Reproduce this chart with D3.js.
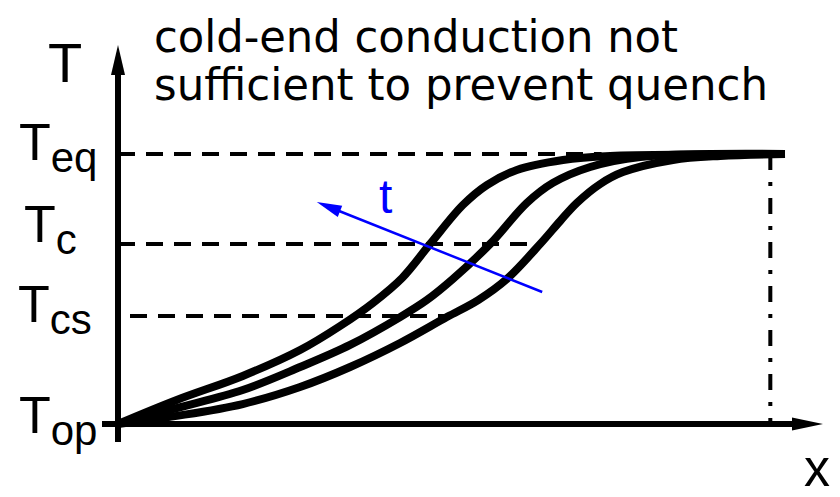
<!DOCTYPE html>
<html>
<head>
<meta charset="utf-8">
<script src="https://cdn.jsdelivr.net/npm/d3@7"></script>
<style>
body { margin: 0; background: #fff; }
svg { display: block; }
</style>
</head>
<body>
<svg width="840" height="497"></svg>
<script>
// position along the conductor (0..100), temperature normalised so T_op = 0 and T_eq = 1
var levelNames = ["op", "cs", "c", "eq"];
var levelValues = [0, 0.4, 0.667, 1];
var levelLineFrom = [null, 1.8, 0, 0];
var levelLineTo = [null, 49, 63.3, 72.5];

var posEarly = [0, 8.8, 18.7, 27.3, 33.3, 38.2, 42.6, 46.8, 51.7, 55.3, 59.8, 66.7, 73.8, 87.3, 100];
var tempEarly = [0, 0.089, 0.178, 0.274, 0.363, 0.448, 0.541, 0.667, 0.811, 0.885, 0.941, 0.978, 0.993, 0.998, 1];

var posMid = [0, 8.8, 18.7, 27.3, 34.8, 42.3, 46.3, 50.2, 55.8, 61.3, 65.2, 70.8, 78.3, 100];
var tempMid = [0, 0.059, 0.126, 0.211, 0.293, 0.396, 0.459, 0.537, 0.667, 0.819, 0.893, 0.952, 0.989, 1];

var posLate = [0, 8.8, 18.7, 27.3, 34.8, 42.3, 49.3, 54, 58.3, 63.3, 66.3, 68.8, 72.3, 75.7, 83.2, 90.3, 100];
var tempLate = [0, 0.03, 0.074, 0.137, 0.211, 0.3, 0.396, 0.459, 0.537, 0.667, 0.752, 0.819, 0.889, 0.933, 0.978, 0.993, 1];

var quenchEnd = 97.8;
var timeArrowFrom = [63.6, 0.489];
var timeArrowTo = [29.8, 0.822];

var titleLines = ["cold-end conduction not", "sufficient to prevent quench"];

var svg = d3.select("svg");

var x = d3.scaleLinear().domain([0, 100]).range([118, 785]);
var y = d3.scaleLinear().domain([0, 1]).range([424, 154]);

function arrowHead(tx, ty, fx, fy, len, half) {
    var a = Math.atan2(ty - fy, tx - fx);
    var bx = tx - len * Math.cos(a), by = ty - len * Math.sin(a);
    var px = -Math.sin(a) * half, py = Math.cos(a) * half;
    return "M" + tx + "," + ty + "L" + (bx + px) + "," + (by + py) + "L" + (bx - px) + "," + (by - py) + "Z";
}

// dashed temperature levels
var levels = levelValues.map(function(v, i) {
    return { name: levelNames[i], value: v, from: levelLineFrom[i], to: levelLineTo[i] };
});

svg.append("g")
    .selectAll("line")
    .data(levels.filter(function(d) { return d.from !== null; }))
    .enter().append("line")
    .attr("x1", function(d) { return x(d.from); })
    .attr("x2", function(d) { return x(d.to); })
    .attr("y1", function(d) { return y(d.value); })
    .attr("y2", function(d) { return y(d.value); })
    .attr("stroke", "#000")
    .attr("stroke-width", 4)
    .attr("stroke-dasharray", "17,11");

// end of the conductor
svg.append("line")
    .attr("x1", x(quenchEnd)).attr("x2", x(quenchEnd))
    .attr("y1", y(1)).attr("y2", y(0))
    .attr("stroke", "#000")
    .attr("stroke-width", 4)
    .attr("stroke-dasharray", "16,12,4,12");

// axes
var axes = svg.append("g");
axes.append("line")
    .attr("x1", x(0)).attr("x2", x(0))
    .attr("y1", y(0) + 18).attr("y2", 70)
    .attr("stroke", "#000").attr("stroke-width", 6);
axes.append("path")
    .attr("d", arrowHead(x(0), 45, x(0), 100, 30, 7))
    .attr("fill", "#000");
axes.append("line")
    .attr("x1", x(0) - 16).attr("x2", 798)
    .attr("y1", y(0)).attr("y2", y(0))
    .attr("stroke", "#000").attr("stroke-width", 6);
axes.append("path")
    .attr("d", arrowHead(823, y(0), 700, y(0), 31, 6.5))
    .attr("fill", "#000");

// temperature profiles
var profiles = [
    d3.zip(posEarly, tempEarly),
    d3.zip(posMid, tempMid),
    d3.zip(posLate, tempLate)
];

var line = d3.line()
    .x(function(d) { return x(d[0]); })
    .y(function(d) { return y(d[1]); })
    .curve(d3.curveCatmullRom.alpha(0.5));

svg.append("g")
    .selectAll("path")
    .data(profiles)
    .enter().append("path")
    .attr("d", line)
    .attr("fill", "none")
    .attr("stroke", "#000")
    .attr("stroke-width", 8)
    .attr("stroke-linejoin", "round");

// time arrow
var ax0 = x(timeArrowFrom[0]), ay0 = y(timeArrowFrom[1]);
var ax1 = x(timeArrowTo[0]), ay1 = y(timeArrowTo[1]);
var ang = Math.atan2(ay1 - ay0, ax1 - ax0);
svg.append("line")
    .attr("x1", ax0).attr("y1", ay0)
    .attr("x2", ax1 - 20 * Math.cos(ang)).attr("y2", ay1 - 20 * Math.sin(ang))
    .attr("stroke", "#0000ff")
    .attr("stroke-width", 2.5);
svg.append("path")
    .attr("d", arrowHead(ax1, ay1, ax0, ay0, 25, 6))
    .attr("fill", "#0000ff");
svg.append("text")
    .attr("x", 379).attr("y", 213)
    .attr("font-family", "Liberation Sans, Arial, sans-serif")
    .attr("font-size", 48)
    .attr("fill", "#0000ff")
    .text("t");

// title
svg.append("g")
    .selectAll("text")
    .data(titleLines)
    .enter().append("text")
    .attr("x", 154)
    .attr("y", function(d, i) { return 52 + i * 48; })
    .attr("font-family", "DejaVu Sans, sans-serif")
    .attr("font-size", 45)
    .attr("textLength", function(d, i) { return i === 0 ? 524 : 614; })
    .attr("lengthAdjust", "spacingAndGlyphs")
    .text(function(d) { return d; });

// axis labels
var labelFont = "Liberation Sans, Arial, sans-serif";
svg.append("text")
    .attr("x", 48).attr("y", 82)
    .attr("font-family", labelFont).attr("font-size", 56)
    .text("T");
svg.append("text")
    .attr("x", 804).attr("y", 486)
    .attr("font-family", labelFont).attr("font-size", 54)
    .attr("textLength", 26).attr("lengthAdjust", "spacingAndGlyphs")
    .text("x");

// level labels: T with subscript
var labelNudge = { op: 9, cs: 6, c: -2, eq: 6 };
var labelLeft = { op: 19, cs: 18, c: 24, eq: 19 };

var lab = svg.append("g")
    .selectAll("text")
    .data(levels)
    .enter().append("text")
    .attr("font-family", labelFont)
    .attr("x", function(d) { return labelLeft[d.name]; })
    .attr("y", function(d) { return y(d.value) + labelNudge[d.name]; });
lab.append("tspan")
    .attr("font-size", 52)
    .text("T");
lab.append("tspan")
    .attr("font-size", 42)
    .attr("dy", 12)
    .text(function(d) { return d.name; });
</script>
</body>
</html>
